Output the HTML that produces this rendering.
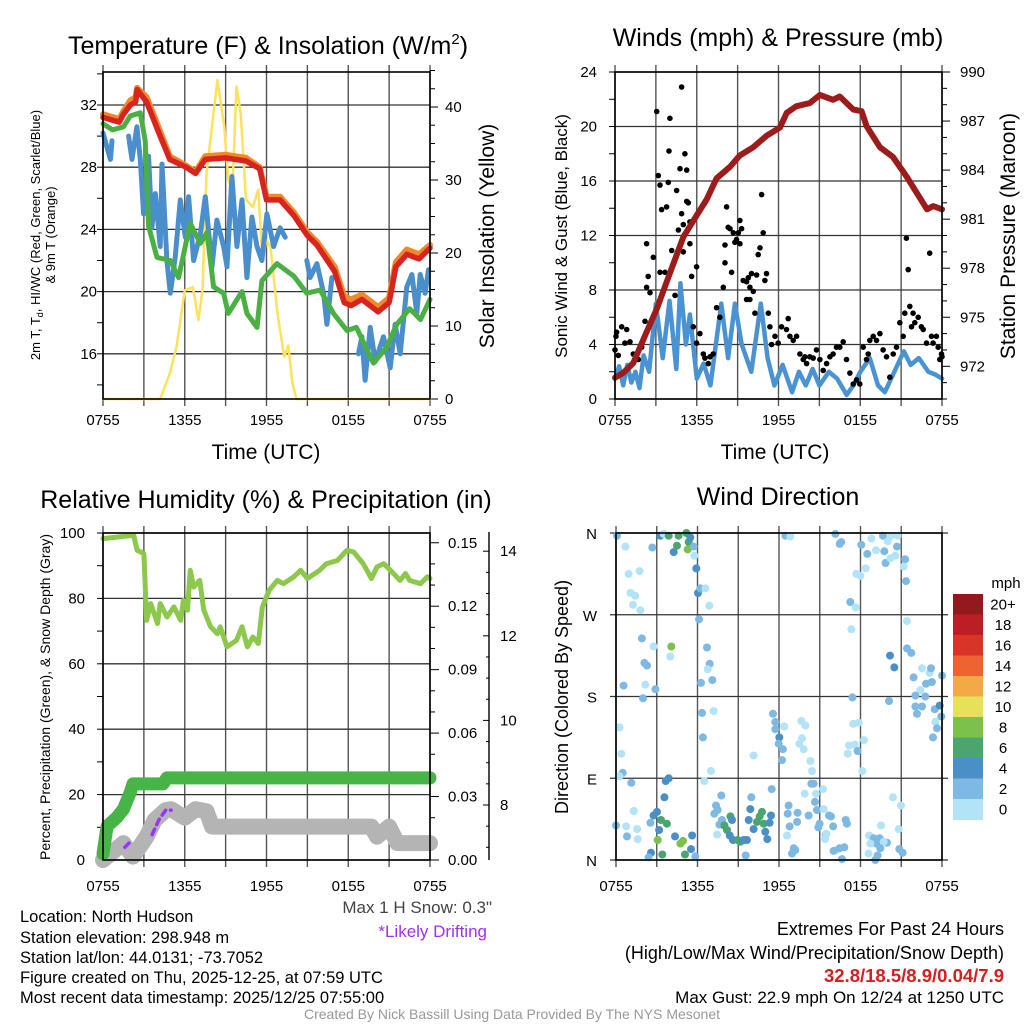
<!DOCTYPE html>
<html><head><meta charset="utf-8"><style>
html,body{margin:0;padding:0;background:#fff;}
svg{display:block;font-family:"Liberation Sans",sans-serif;}
</style></head><body>
<svg id="chart" width="1024" height="1024" viewBox="0 0 1024 1024" xmlns="http://www.w3.org/2000/svg">
<rect x="0" y="0" width="1024" height="1024" fill="#fff"/>
<g id="p1"></g>
<g id="p2"></g>
<g id="p3"></g>
<g id="p4"></g>
<text x="268" y="54" font-size="25" text-anchor="middle">Temperature (F) &amp; Insolation (W/m<tspan font-size="15" dy="-10">2</tspan><tspan dy="10">)</tspan></text>
<text x="778" y="46" font-size="25" text-anchor="middle">Winds (mph) &amp; Pressure (mb)</text>
<text x="266" y="508" font-size="25" text-anchor="middle">Relative Humidity (%) &amp; Precipitation (in)</text>
<text x="778" y="505" font-size="25" text-anchor="middle">Wind Direction</text>
<text x="266" y="459" font-size="21" text-anchor="middle">Time (UTC)</text>
<text x="775" y="459" font-size="21" text-anchor="middle">Time (UTC)</text>
<text transform="translate(40,235) rotate(-90)" font-size="13" text-anchor="middle">2m T, T<tspan font-size="9" dy="3">d</tspan><tspan dy="-3">, HI/WC (Red, Green, Scarlet/Blue)</tspan></text>
<text transform="translate(55,235) rotate(-90)" font-size="13" text-anchor="middle">&amp; 9m T (Orange)</text>
<text transform="translate(494,236) rotate(-90)" font-size="21" text-anchor="middle">Solar Insolation (Yellow)</text>
<text transform="translate(567,236) rotate(-90)" font-size="17" text-anchor="middle">Sonic Wind &amp; Gust (Blue, Black)</text>
<text transform="translate(1015,236) rotate(-90)" font-size="21" text-anchor="middle">Station Pressure (Maroon)</text>
<text transform="translate(50,697) rotate(-90)" font-size="14" text-anchor="middle">Percent, Precipitation (Green), &amp; Snow Depth (Gray)</text>
<text transform="translate(568,697) rotate(-90)" font-size="18" text-anchor="middle">Direction (Colored By Speed)</text>
<g id="cbar"></g>
<text x="492" y="913" font-size="17" fill="#444" text-anchor="end">Max 1 H Snow: 0.3"</text>
<text x="487" y="937" font-size="17" fill="#a030f0" text-anchor="end">*Likely Drifting</text>
<g font-size="16.5">
<text x="20" y="922">Location: North Hudson</text>
<text x="20" y="943">Station elevation: 298.948 m</text>
<text x="20" y="963">Station lat/lon: 44.0131; -73.7052</text>
<text x="20" y="983">Figure created on Thu, 2025-12-25, at 07:59 UTC</text>
<text x="20" y="1003">Most recent data timestamp: 2025/12/25 07:55:00</text>
</g>
<g font-size="18" text-anchor="end">
<text x="1004" y="935">Extremes For Past 24 Hours</text>
<text x="1004" y="959">(High/Low/Max Wind/Precipitation/Snow Depth)</text>
<text x="1004" y="982" font-size="18.5" fill="#d42020" font-weight="bold">32.8/18.5/8.9/0.04/7.9</text>
<text x="1004" y="1003" font-size="17">Max Gust: 22.9 mph On 12/24 at 1250 UTC</text>
</g>
<text x="512" y="1019" font-size="14" fill="#999" text-anchor="middle">Created By Nick Bassill Using Data Provided By The NYS Mesonet</text>
</svg>
<script>
// ---------- Panel 1 data ----------
const tRed=[0,1.2,1.5,2,2.4,2.5,3.2,4.1,4.9,6.1,6.8,7.5,9,10.5,11.5,12,13,14,15,15.7,17,17.7,18.2,19,20.2,21,21.5,22.3,23.2,24];
const vRed=[31.2,30.9,31.4,32.0,32.2,33.0,32.2,30.2,28.5,28.0,27.6,28.5,28.6,28.4,27.9,25.9,25.9,24.9,23.6,23.0,21.3,19.3,19.1,19.5,18.7,19.3,21.6,22.4,22.1,22.8];
const vOrange=[31.4,31.1,31.6,32.3,32.5,33.1,32.5,30.5,28.7,28.1,27.7,28.7,28.8,28.6,28.0,26.1,26.1,25.1,23.8,23.2,21.6,19.7,19.5,19.8,19.0,19.6,21.9,22.7,22.4,23.0];
const tGreen=[0,0.7,1.5,2,2.74,3.1,3.35,3.96,4.94,5.55,6.4,7.14,7.63,8.12,8.85,9.2,10.2,10.56,11.3,11.66,12.76,14,14.96,15.94,16.92,17.9,18.6,19.85,20.8,21.56,22.5,23.3,24];
const vGreen=[30.8,30.4,30.6,31.3,31.5,29.7,24.2,22.2,22.0,20.9,24.4,23.1,23.8,20.3,19.9,18.6,20.0,18.6,17.7,20.7,21.8,21.0,19.9,20.1,18.6,17.5,17.7,15.4,16.4,17.9,18.9,18.2,19.5];
const tBlue=[0,0.54,0.66,null,1.88,2.13,2.49,2.74,2.98,3.35,3.59,3.84,4.2,4.33,4.69,4.94,5.3,5.67,6.04,6.28,6.65,7.14,7.51,8.0,8.36,8.85,9.1,9.46,9.83,10.2,10.56,10.93,11.3,11.66,12.03,12.52,13.0,13.37,null,14.96,15.2,15.7,16.19,16.43,16.8,null,18.75,19.0,19.24,19.61,19.98,20.59,21.08,21.44,21.81,22.3,22.67,23.03,23.28,23.64,23.89];
const vBlue=[30.2,28.5,29.7,null,30.0,28.5,30.6,28.5,25.0,28.7,24.1,26.3,22.9,28.2,22.0,19.9,22.2,25.9,23.5,26.1,22.0,23.7,26.1,21.6,24.6,22.9,21.6,27.4,22.9,25.9,20.9,24.8,22.9,22.0,25.0,22.9,24.1,23.5,null,22.0,20.9,21.8,19.9,17.9,20.9,null,16.0,17.1,14.3,17.7,15.5,17.1,15.1,17.9,16.0,20.3,21.1,18.6,21.1,19.9,21.4];
const tSolar=[0,4.2,4.9,5.4,6.0,6.6,7.0,7.3,7.6,8.4,8.9,9.2,9.5,9.8,10.1,10.5,11.0,11.4,11.7,12.0,12.3,12.8,13.3,13.6,13.9,14.2,24];
const vSolar=[0,0,3.5,7.2,14.9,15.3,10.8,14.9,31,43.7,37.3,30,28.7,42.8,39.2,27.3,26.3,28.7,19,21.8,20.8,11.8,5.8,7.3,2.2,0,0];
const p1LeftTicks=[16,20,24,28,32];
const p1RightTicks=[0,10,20,30,40];
const timeLabels=["0755","1355","1955","0155","0755"];
const timeLabelHours=[0,6,12,18,24];
// ---------- Panel 2 data ----------
const tPres=[0,0.61,1.34,2.32,3.06,4.03,5.01,5.75,6.72,7.46,8.44,9.17,10.15,11.12,12.1,12.6,13.3,14.3,15.04,16.0,16.5,17.5,18.1,18.46,19.44,20.4,21.4,22.9,23.35,24];
const vPres=[971.3,971.6,972.2,974.1,975.5,977.7,979.9,980.9,982.2,983.5,984.2,984.9,985.4,986.1,986.6,987.5,987.9,988.1,988.6,988.3,988.5,987.7,987.6,986.7,985.4,984.8,983.6,981.6,981.8,981.6];
const tWind=[0,0.3,0.6,0.9,1.2,1.5,1.8,2.1,2.5,3,3.5,4,4.5,4.8,5.2,5.5,6,6.5,7,7.8,8.3,8.8,9.3,10,10.7,11.2,11.7,12.3,13,13.5,14,14.5,15,15.7,16.3,17,17.5,18,18.7,19.3,19.8,20.5,21.2,21.7,22.3,23,23.5,24];
const vWind=[1.5,2.4,1.0,2.5,1.2,2.0,0.8,3.2,2.0,7.0,3.0,7.2,2.2,8.5,4.0,6.2,1.5,2.6,1.0,7.0,3.0,7.0,4.0,2.0,7.0,3.0,1.0,2.5,0.5,2.0,1.0,2.2,1.0,2.0,1.5,0.3,1.0,2.0,3.0,1.0,0.5,2.0,3.5,2.5,3.0,2.0,1.8,1.5];
const tGust=[0,.07,.12,.24,.49,.73,.86,1.1,1.34,1.71,1.96,2.2,2.32,2.32,2.44,2.57,2.81,3.06,3.18,3.3,3.42,3.3,3.67,3.79,3.91,3.96,4.03,4.16,4.4,4.52,4.65,4.77,4.89,4.89,5.01,5.01,5.13,5.26,5.26,5.38,5.5,5.5,5.62,5.99,5.75,5.99,6.23,6.48,6.6,6.85,6.97,7.21,7.46,7.7,7.95,8.07,8.07,8.19,8.31,8.44,8.56,8.68,8.8,8.92,9.05,9.17,9.29,9.17,9.41,9.66,9.78,9.9,10.02,10.15,10.39,10.51,10.64,10.76,10.88,11,11.12,9.66,9.9,10.27,11.25,11.37,11.49,11.74,11.98,12.22,12.59,12.71,12.84,13.08,13.33,13.57,13.81,13.94,14.06,14.3,14.55,14.79,15.04,15.28,15.53,15.77,16.01,16.26,16.5,16.75,16.99,17.24,17.48,17.73,17.97,18.22,18.46,18.58,18.7,18.95,19.19,19.44,19.68,19.93,20.17,20.42,20.66,20.9,21.15,21.27,21.39,21.52,21.64,21.76,21.88,22,22.25,22.49,22.62,22.86,23.1,23.23,23.35,23.59,23.72,23.84,23.96,24];
const vGust=[3.6,4.6,4.9,3.2,5.3,4.1,5.1,4.2,3.3,2.9,3.8,5.7,8.2,11.4,9.0,7.8,10.4,21.1,16.4,15.7,13.9,9.3,9.3,14.1,15.9,18.2,20.6,10.9,7.6,15.3,12.4,16.9,22.9,13.6,12.8,10.8,18.0,16.8,14.5,14.4,13.0,11.4,9.0,9.7,5.3,4.1,4.8,3.3,3.0,2.6,3.1,3.3,6.7,6.0,8.2,10.0,11.3,14.1,12.6,12.5,9.3,12.2,11.5,11.7,12.2,13.1,12.5,11.4,8.7,8.6,8.9,8.2,9.2,7.9,9.1,10.6,11.1,15.0,12.2,8.7,9.2,7.3,7.3,6.3,6.3,5.3,4.0,4.6,4.1,5.3,5.1,5.9,4.6,4.3,4.6,3.3,2.9,3.1,2.6,3.1,3.0,3.6,2.9,2.1,2.6,3.1,3.3,3.8,3.8,4.2,2.9,1.9,1.1,1.4,1.1,3.8,2.9,3.3,4.3,4.6,4.3,4.8,3.6,3.1,1.6,3.3,3.8,5.6,4.6,6.3,11.8,9.5,6.8,5.3,6.3,5.6,6.0,5.3,5.1,4.1,10.7,4.6,4.1,4.6,3.8,2.9,3.3,3.1];
const p2LeftTicks=[0,4,8,12,16,20,24];
const p2RightTicks=[972,975,978,981,984,987,990];
// ---------- Panel 3 data ----------
const tRH=[0,2.25,2.5,3,3.2,3.5,4,4.2,4.7,5.2,5.7,5.9,6.2,6.4,6.65,7.1,7.4,7.9,8.4,8.6,9.1,9.8,10.2,10.6,11,11.4,11.7,12.2,12.8,13.25,14,14.5,15,15.9,16.4,17.2,17.9,18.4,19.1,19.7,20.1,20.6,21.1,21.8,22.2,22.5,23.3,23.8,24];
const vRH=[98.3,99.3,94.7,93.7,73.3,78.4,72.3,78.4,74.3,77.4,73.3,79.4,76.4,88.6,83.5,85.5,76.4,71.3,69.2,71.3,65.2,67.2,71.3,65.2,68.2,66.2,77.4,82.5,85.5,84.5,86.6,88.6,86.1,88.6,90.6,91.6,94.7,94.2,90.6,86.1,89.6,90.6,88.6,85.5,87.6,85.5,84.5,86.6,86.1];
const tPrecip=[0,0.3,1,1.5,2,2.2,4.4,4.7,24];
const vPrecip=[0.003,0.016,0.02,0.024,0.032,0.036,0.036,0.0388,0.0388];
const tSnow=[0,1.5,2.2,3.2,3.8,4.6,5,6,6.8,7.6,8,19.7,20.1,21,21.6,24];
const vSnow=[6.7,7.1,6.78,7.25,7.65,7.88,7.9,7.7,7.9,7.85,7.49,7.49,7.25,7.49,7.1,7.1];
const tDrift=[1.6,1.9,null,3.6,4.1,4.6,5.0];
const vDrift=[7.0,7.1,null,7.3,7.65,7.88,7.88];
const p3LeftTicks=[0,20,40,60,80,100];
const p3PrecipTicks=[0,0.03,0.06,0.09,0.12,0.15];
const p3PrecipLabels=["0.00","0.03","0.06","0.09","0.12","0.15"];
const p3SnowTicks=[8,10,12,14];
// ---------- Panel 4 data ----------
const tDir=[.07,.69,.93,1.74,1.06,1.42,1.25,1.79,2.67,3.26,3.51,3.88,4.25,4.49,4.61,5.18,5.35,5.28,5.47,5.72,5.77,5.91,6.04,6.21,6.58,6.87,6.11,1.91,2.09,2.28,2.77,4.07,4.0,.56,1.99,2.16,2.9,6.7,6.9,6.75,7.09,6.26,6.33,7.19,6.4,.25,.39,.49,.25,1.13,6.99,6.5,3.66,3.88,3.56,1.3,0,.74,.81,1.55,1.6,2.53,2.77,3.02,3.31,3.75,3.17,3.07,4.34,4.74,4.93,5.6,5.52,5.08,3.41,2.58,2.4,5.84,7.75,7.36,7.48,7.24,7.8,7.61,7.98,8.42,8.54,8.17,8.37,8.61,8.96,9.15,9.4,9.64,7.44,9.55,9.96,9.89,9.77,10.13,10.38,10.58,10.75,10.87,10.99,11.14,11.31,11.41,11.46,10.13,11.56,11.73,11.73,12.02,11.98,12.29,12.22,12.39,13.64,13.94,13.69,13.5,13.82,14.31,14.43,14.38,14.55,13.89,14.65,14.72,15.24,12.71,12.64,13.37,12.79,12.59,13.33,14.18,14.8,15.29,15.68,15.83,15.98,14.99,14.9,15.44,16.22,16.02,16.47,16.81,16.64,13.08,12.96,13.2,12.47,12.83,16.15,16.47,16.59,18.06,18.8,18.5,19.14,19.66,20.0,20.25,20.74,20.69,19.75,20.56,21.28,19.85,20.2,17.69,17.99,18.38,21.18,21.35,17.25,17.64,17.33,21.42,21.42,21.74,20.17,20.49,22.53,23.09,23.19,21.91,22.4,22.82,23.26,22.04,22.77,22.04,22.53,22.16,23.46,23.83,24,23.95,23.51,23.63,23.34,17.4,20.1,17.47,17.87,17.15,17.57,18.26,17.06,17.79,18.13,20.39,20.98,20.81,19.51,18.63,18.97,19.41,19.17,19.95,19.71,18.72,19.46,18.6,19.26,19.09,20.86,21.1,16.91,17.0,15.49,15.39];
const vDir=[357,345,315,318,294,291,281,275,344,357,359,357,339,346,357,360,350,342,355,345,335,321,294,299,299,280,265,244,217,214,235,235,224,192,178,193,188,234,216,210,198,195,162,164,135,146,117,96,92,85,98,87,87,90,69,54,38,37,26,34,23,41,49,53,44,40,33,22,26,18,21,27,12,6,6,8,3,4,71,60,55,51,44,39,38,48,44,33,27,22,22,20,22,22,28,5,69,56,44,34,42,48,53,40,31,23,41,49,78,115,161,152,144,135,128,122,110,147,153,148,134,128,122,109,98,84,84,73,64,73,78,60,51,52,37,27,42,49,55,56,49,48,37,40,36,28,11,10,13,14,1,13,7,11,357,356,359,348,350,347,354,337,341,357,351,357,357,345,340,335,331,327,332,315,313,321,323,307,284,278,254,263,233,228,225,212,211,206,211,201,187,194,196,181,180,169,169,161,166,170,203,158,152,145,135,179,175,150,151,126,127,132,117,120,98,69,60,34,38,27,24,24,18,19,20,18,13,7,5,0,12,8,44,40,29,23];
const vSpd=[3,1,1,1,1,1,1,1,3,5,1,7,5,7,7,7,7,9,5,3,1,5,5,3,1,1,3,3,3,3,1,9,1,3,3,1,3,3,3,1,3,3,3,1,3,1,1,3,1,3,1,1,5,5,5,1,3,1,3,1,1,3,5,5,7,7,5,9,5,9,9,5,5,7,7,5,3,3,3,3,3,3,3,3,7,7,5,7,5,5,7,7,5,5,1,3,3,5,5,5,7,7,7,7,5,5,5,5,3,1,3,3,3,5,3,3,3,1,1,1,1,1,1,1,1,3,3,1,3,1,1,3,3,3,3,1,3,3,3,1,3,3,3,3,3,3,1,3,3,3,3,3,3,3,3,1,3,3,3,3,1,3,1,3,1,1,1,3,3,1,3,3,1,1,1,1,1,3,3,1,1,1,3,3,5,5,1,1,3,3,1,3,3,3,3,3,3,3,3,5,3,3,1,3,3,3,3,1,1,1,1,1,1,3,1,1,1,1,1,1,3,3,3,3,1,1,3,1,3,3,3,3,3,3,1,1,1,1];
const dirTicks=[0,90,180,270,360];
const dirLabels=["N","E","S","W","N"];
const cbarLabels=["0","2","4","6","8","10","12","14","16","18","20+"];
const cbarColors=["#b3e3f7","#7db9e3","#4a8fc5","#4aa56e","#7bc14b","#e5e25a","#f4a947","#ef6330","#da3328","#bd1e26","#921a1c"];

const NS="http://www.w3.org/2000/svg";
function el(tag,attrs,parent){const e=document.createElementNS(NS,tag);for(const k in attrs)e.setAttribute(k,attrs[k]);parent.appendChild(e);return e;}
function pathD(ts,vs,xf,yf){let d="",pen=false;for(let i=0;i<ts.length;i++){if(ts[i]===null||vs[i]===null){pen=false;continue;}d+=(pen?"L":"M")+xf(ts[i]).toFixed(1)+","+yf(vs[i]).toFixed(1);pen=true;}return d;}
function line(g,ts,vs,xf,yf,color,w,name,dash){const p=el("path",{d:pathD(ts,vs,xf,yf),fill:"none",stroke:color,"stroke-width":w,"stroke-linejoin":"round","stroke-linecap":"round"},g);if(dash)p.setAttribute("stroke-dasharray",dash);


return p;}
function frame(g,x0,x1,y0,y1,name){
 for(let h=0;h<=24;h+=3){const x=x0+(x1-x0)*h/24;const l=el("line",{x1:x,x2:x,y1:y0-7,y2:y1+7,stroke:"#555","stroke-width":1.4},g);
 
 }
}
function box(g,x0,x1,y0,y1,name){const r=el("rect",{x:x0,y:y0,width:x1-x0,height:y1-y0,fill:"none",stroke:"#000","stroke-width":1.6},g);

}
function hgrid(g,x0,x1,y,name){const l=el("line",{x1:x0,x2:x1,y1:y,y2:y,stroke:"#333","stroke-width":1.3},g);

}
function tick(g,x,y,dx,name){const l=el("line",{x1:x,x2:x+dx,y1:y,y2:y,stroke:"#000","stroke-width":1},g);

}
function label(g,x,y,txt,anchor,size,name){const t=el("text",{x:x,y:y,"text-anchor":anchor,"font-size":size},g);t.textContent=txt;

return t;}
function timeAxis(g,x0,x1,y,name){for(let i=0;i<timeLabels.length;i++){label(g,x0+(x1-x0)*timeLabelHours[i]/24,y,timeLabels[i],"middle",15,name+'-x-tick-label');}}

// ---------- Panel 1 ----------
(function(){const g=document.getElementById("p1");const X0=103,X1=430,Y0=72,Y1=399;
 const x=t=>X0+t*(X1-X0)/24, yL=v=>105+(32-v)*15.55, yR=v=>399-v*7.3;
 frame(g,X0,X1,Y0,Y1,"temperature");
 p1LeftTicks.forEach(v=>{hgrid(g,X0,X1,yL(v),"temperature");label(g,97,yL(v)+5,String(v),"end",15,"temperature-y-tick-label");});
 for(let v=14;v<=34;v+=2){tick(g,X0,yL(v),-6,"temperature-y-tick");}
 for(let v=0;v<=45;v+=2.5){tick(g,X1,yR(v),v%10===0?8:5,"insolation-y-tick");}
 p1RightTicks.forEach(v=>label(g,445,yR(v)+5,String(v),"start",15,"insolation-y-tick-label"));
 line(g,tSolar,vSolar,x,yR,"#fde25a",2.5,"solar-insolation-line");
 line(g,tBlue,vBlue,x,yL,"#4a8fcb",5,"wind-chill-line");
 line(g,tGreen,vGreen,x,yL,"#4bb043",5,"dewpoint-line");
 line(g,tRed,vOrange,x,yL,"#f4872a",6,"temperature-9m-line");
 line(g,tRed,vRed,x,yL,"#d7241f",5.5,"temperature-2m-line");
 box(g,X0,X1,Y0,Y1,"temperature");
 timeAxis(g,X0,X1,425,"temperature");
})();
// ---------- Panel 2 ----------
(function(){const g=document.getElementById("p2");const X0=615,X1=942,Y0=72,Y1=399;
 const x=t=>X0+t*(X1-X0)/24, yL=v=>399-v*13.625, yR=p=>399-(p-970)*16.35;
 frame(g,X0,X1,Y0,Y1,"winds");
 p2LeftTicks.forEach(v=>{hgrid(g,X0,X1,yL(v),"winds");label(g,597,yL(v)+5,String(v),"end",15,"wind-y-tick-label");});
 for(let v=0;v<=24;v+=2)tick(g,X0,yL(v),-6,"wind-y-tick");
 for(let p=970;p<=990;p+=1)tick(g,X1,yR(p),(p-972)%3===0?8:5,"pressure-y-tick");
 p2RightTicks.forEach(p=>label(g,960,yR(p)+5,String(p),"start",15,"pressure-y-tick-label"));
 line(g,tWind,vWind,x,yL,"#4a93d3",4.5,"sonic-wind-line");
 for(let i=0;i<tGust.length;i++){const c=el("circle",{cx:x(tGust[i]).toFixed(1),cy:yL(vGust[i]).toFixed(1),r:2.8,fill:"#000"},g);
  
  }
 line(g,tPres,vPres,x,yR,"#9c1c1c",6,"pressure-line");
 box(g,X0,X1,Y0,Y1,"winds");
 timeAxis(g,X0,X1,425,"winds");
})();
// ---------- Panel 3 ----------
(function(){const g=document.getElementById("p3");const X0=103,X1=430,Y0=533,Y1=860;
 const x=t=>X0+t*(X1-X0)/24, yL=v=>860-v*3.27, yP=v=>860-v*2115, yS=v=>805-(v-8)*42.3;
 frame(g,X0,X1,Y0,Y1,"humidity");
 p3LeftTicks.forEach(v=>{hgrid(g,X0,X1,yL(v),"humidity");label(g,85,yL(v)+5,String(v),"end",15,"humidity-y-tick-label");});
 for(let v=0;v<=100;v+=10)tick(g,X0,yL(v),-6,"humidity-y-tick");
 for(let i=0;i<=15;i++){const v=i*0.01;tick(g,X1,yP(v),i%3===0?9:5,"precip-y-tick");}
 p3PrecipTicks.forEach((v,i)=>label(g,448,yP(v)+5,p3PrecipLabels[i],"start",15,"precip-y-tick-label"));
 const sa=el("line",{x1:489,x2:489,y1:532,y2:860,stroke:"#000","stroke-width":1.4},g);
 
 
 for(let v=7;v<=14.2;v+=0.5)tick(g,489,yS(v),v%2===0?-6:-3,"snow-y-tick");
 p3SnowTicks.forEach(v=>label(g,500,yS(v)+5,String(v),"start",15,"snow-y-tick-label"));
 line(g,tRH,vRH,x,yL,"#8cc84b",5,"humidity-line");
 line(g,tSnow,vSnow,x,yS,"#b4b4b4",16,"snow-depth-line");
 line(g,tDrift,vDrift,x,yS,"#9933ff",3.5,"drifting-line","6,5");
 line(g,tPrecip,vPrecip,x,yP,"#46b446",13,"precipitation-line");
 box(g,X0,X1,Y0,Y1,"humidity");
 timeAxis(g,X0,X1,891,"humidity");
})();
// ---------- Panel 4 ----------
(function(){const g=document.getElementById("p4");const X0=616,X1=942,Y0=533,Y1=860;
 const x=t=>X0+t*(X1-X0)/24, y=d=>860-d*(Y1-Y0)/360;
 frame(g,X0,X1,Y0,Y1,"direction");
 dirTicks.forEach((d,i)=>{hgrid(g,X0-6,X1+6,y(d),"direction");label(g,597,y(d)+6,dirLabels[i],"end",15,"direction-y-tick-label");});
 const col=s=>cbarColors[Math.min(10,Math.floor(s/2))];
 for(let i=0;i<tDir.length;i++){const c=el("circle",{cx:x(tDir[i]).toFixed(1),cy:y(vDir[i]).toFixed(1),r:4,fill:col(vSpd[i])},g);
  
  }
 box(g,X0,X1,Y0,Y1,"direction");
 timeAxis(g,X0,X1,891,"direction");
})();
// ---------- Colorbar ----------
(function(){const g=document.getElementById("cbar");const x0=953,w=30,top=594,h=20.5;
 for(let i=0;i<11;i++){const k=10-i;const r=el("rect",{x:x0,y:top+i*h,width:w,height:h+0.5,fill:cbarColors[k]},g);
  
  
  label(g,1003,top+i*h+h/2+5,cbarLabels[k],"middle",15,"colorbar-label");}
 label(g,1006,588,"mph","middle",15,"colorbar-title");
})();
</script>
</body></html>
